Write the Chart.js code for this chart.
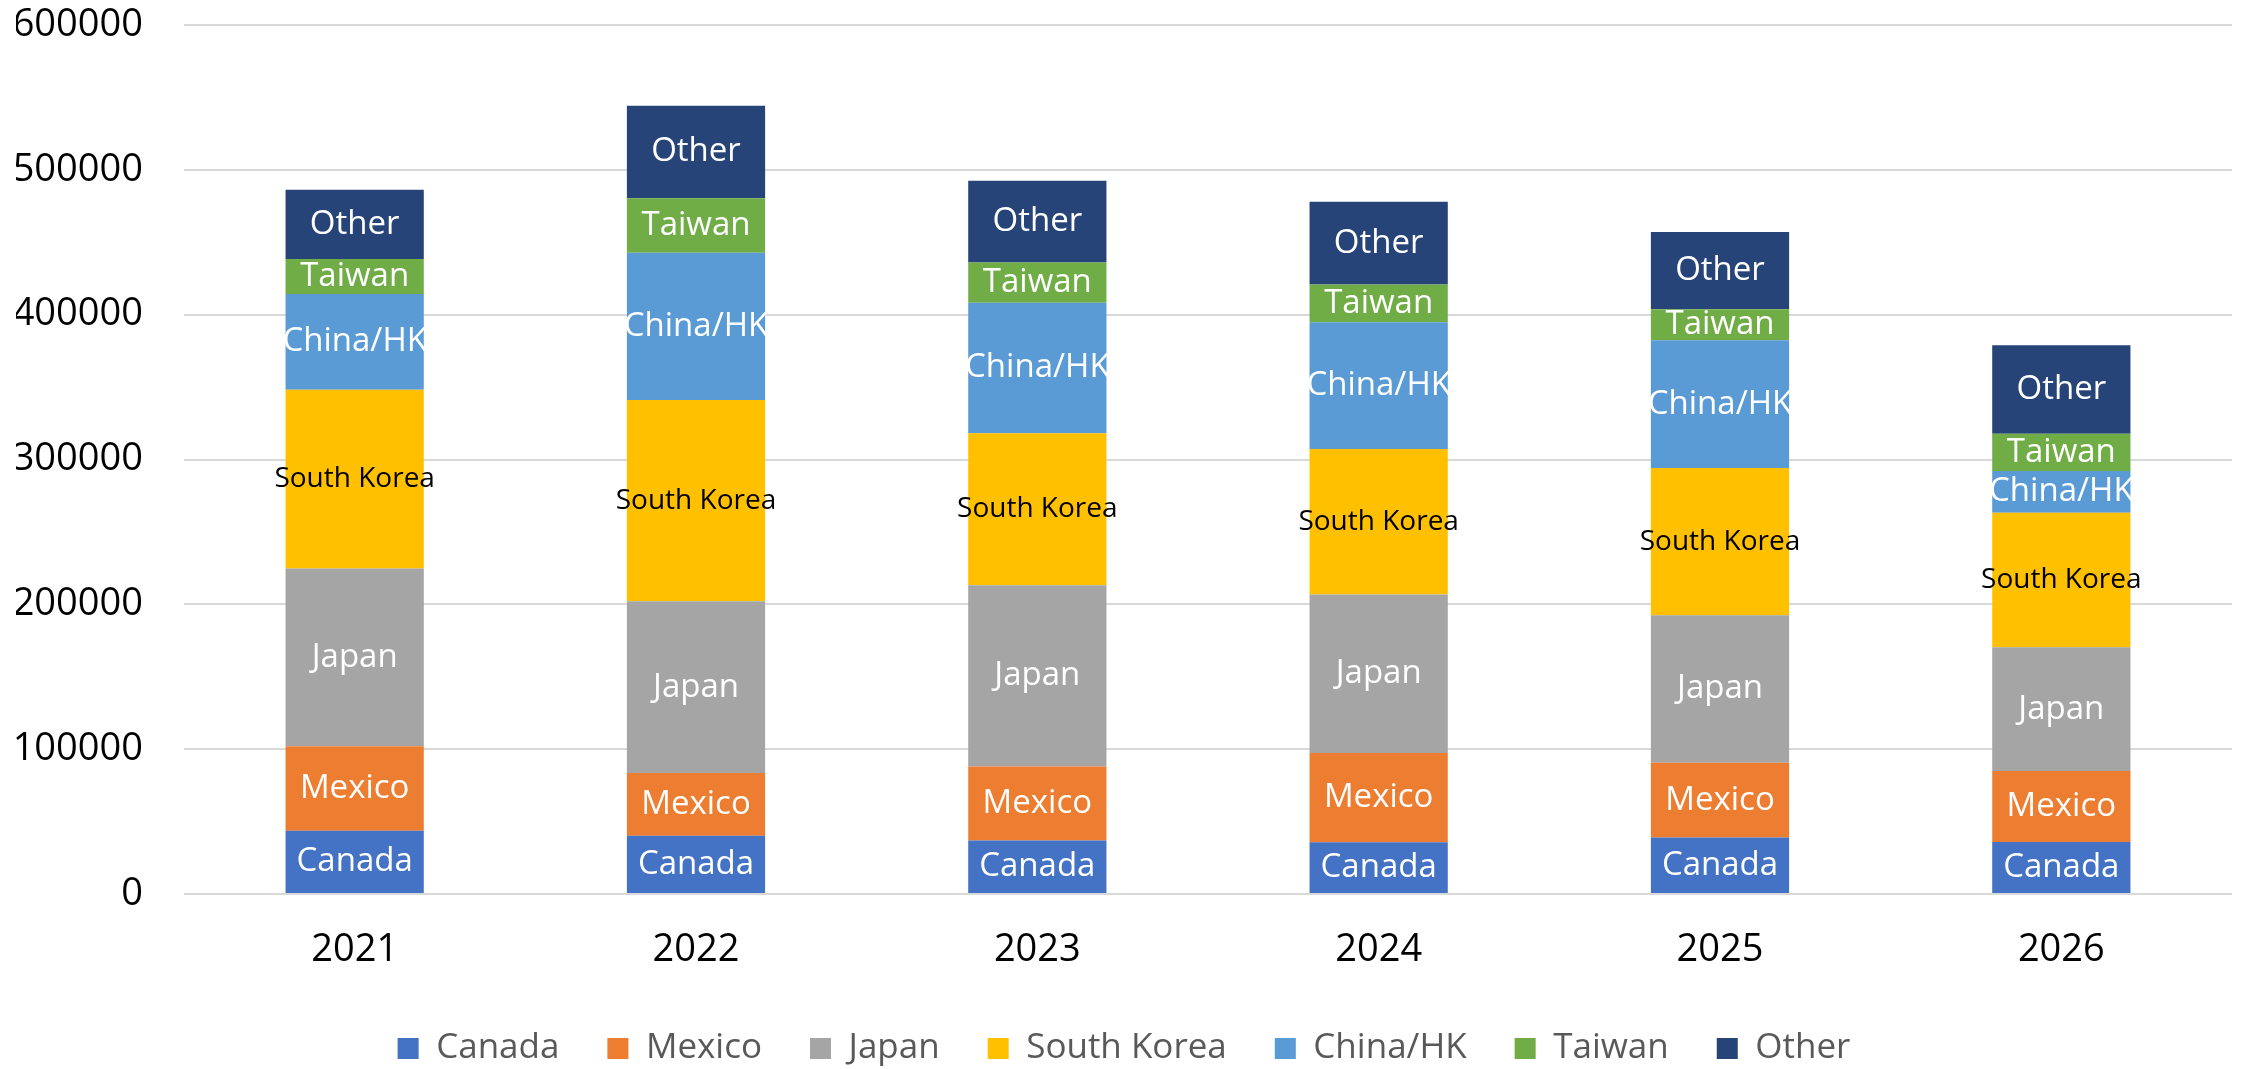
<!DOCTYPE html>
<html lang="en">
<head>
    <meta charset="UTF-8">
    <title>Exports by destination</title>
    <script src="https://cdn.jsdelivr.net/npm/chart.js"></script>
    <style>
        html, body { margin: 0; padding: 0; background: #fff; }
        #wrap { width: 2246px; height: 1069px; position: relative; }
    </style>
</head>
<body>
<div id="wrap"><canvas id="stackChart"></canvas></div>

<script>
    const years = ["2021", "2022", "2023", "2024", "2025", "2026"];

    const canada     = [43700, 40300, 36900, 35800, 39000, 35900];
    const mexico     = [58300, 43200, 51200, 61600, 51600, 49100];
    const japan      = [122700, 118600, 125000, 109400, 101800, 85300];
    const southKorea = [123500, 139000, 105000, 100400, 101700, 93000];
    const chinaHK    = [66000, 101600, 90100, 87600, 88200, 28700];
    const taiwan     = [24300, 37700, 27800, 26000, 21500, 25700];
    const other      = [47700, 63900, 56500, 57100, 53300, 61200];

    const yTicks = [0, 100000, 200000, 300000, 400000, 500000, 600000];

    const fontFamily = "'Open Sans', 'Noto Sans', sans-serif";

    const series = [
        { label: "Canada",      data: canada,     color: "#4472C4", text: "#ffffff" },
        { label: "Mexico",      data: mexico,     color: "#ED7D31", text: "#ffffff" },
        { label: "Japan",       data: japan,      color: "#A5A5A5", text: "#ffffff" },
        { label: "South Korea", data: southKorea, color: "#FFC000", text: "#000000" },
        { label: "China/HK",    data: chinaHK,    color: "#5B9BD5", text: "#ffffff" },
        { label: "Taiwan",      data: taiwan,     color: "#70AD47", text: "#ffffff" },
        { label: "Other",       data: other,      color: "#264478", text: "#ffffff" }
    ];

    // series name written in the middle of every segment
    const segmentLabels = {
        id: "segmentLabels",
        afterDatasetsDraw(chart) {
            const ctx = chart.ctx;
            ctx.save();
            ctx.textAlign = "center";
            ctx.textBaseline = "middle";
            chart.data.datasets.forEach((ds, i) => {
                const meta = chart.getDatasetMeta(i);
                const size = ds.labelColor === "#000000" ? 28 : 33;
                ctx.font = `${size}px ${fontFamily}`;
                ctx.fillStyle = ds.labelColor;
                meta.data.forEach(bar => {
                    const cy = (bar.y + bar.base) / 2;
                    ctx.fillText(ds.label, bar.x, cy);
                });
            });
            ctx.restore();
        }
    };

    new Chart(document.getElementById("stackChart"), {
        type: "bar",
        data: {
            labels: years,
            datasets: series.map(s => ({
                label: s.label,
                data: s.data,
                backgroundColor: s.color,
                labelColor: s.text,
                borderWidth: 0,
                categoryPercentage: 1,
                barPercentage: 0.405
            }))
        },
        options: {
            responsive: true,
            maintainAspectRatio: false,
            animation: false,
            layout: { padding: { top: 25, right: 14, left: 16, bottom: -7 } },
            plugins: {
                tooltip: { enabled: false },
                legend: {
                    position: "bottom",
                    labels: {
                        boxWidth: 21,
                        boxHeight: 21,
                        padding: 48,
                        color: "#595959",
                        font: { family: fontFamily, size: 35 }
                    }
                }
            },
            scales: {
                x: {
                    stacked: true,
                    grid: { display: false },
                    border: { display: false },
                    afterFit: axis => { axis.height = 89; },
                    ticks: {
                        color: "#000",
                        padding: 25,
                        font: { family: fontFamily, size: 38 }
                    }
                },
                y: {
                    stacked: true,
                    min: 0,
                    max: 600000,
                    afterBuildTicks: axis => { axis.ticks = yTicks.map(v => ({ value: v })); },
                    afterFit: axis => {
                        axis.width = 168;
                        // the label gap should not push the plot down from the top
                        axis.paddingTop = 0;
                        axis.paddingBottom = 0;
                    },
                    grid: { color: "#d9d9d9", lineWidth: 2, drawTicks: false },
                    border: { display: false },
                    ticks: {
                        color: "#000",
                        padding: 41,
                        font: { family: fontFamily, size: 38 },
                        callback: v => String(v)
                    }
                }
            }
        },
        plugins: [segmentLabels]
    });
</script>
</body>
</html>
